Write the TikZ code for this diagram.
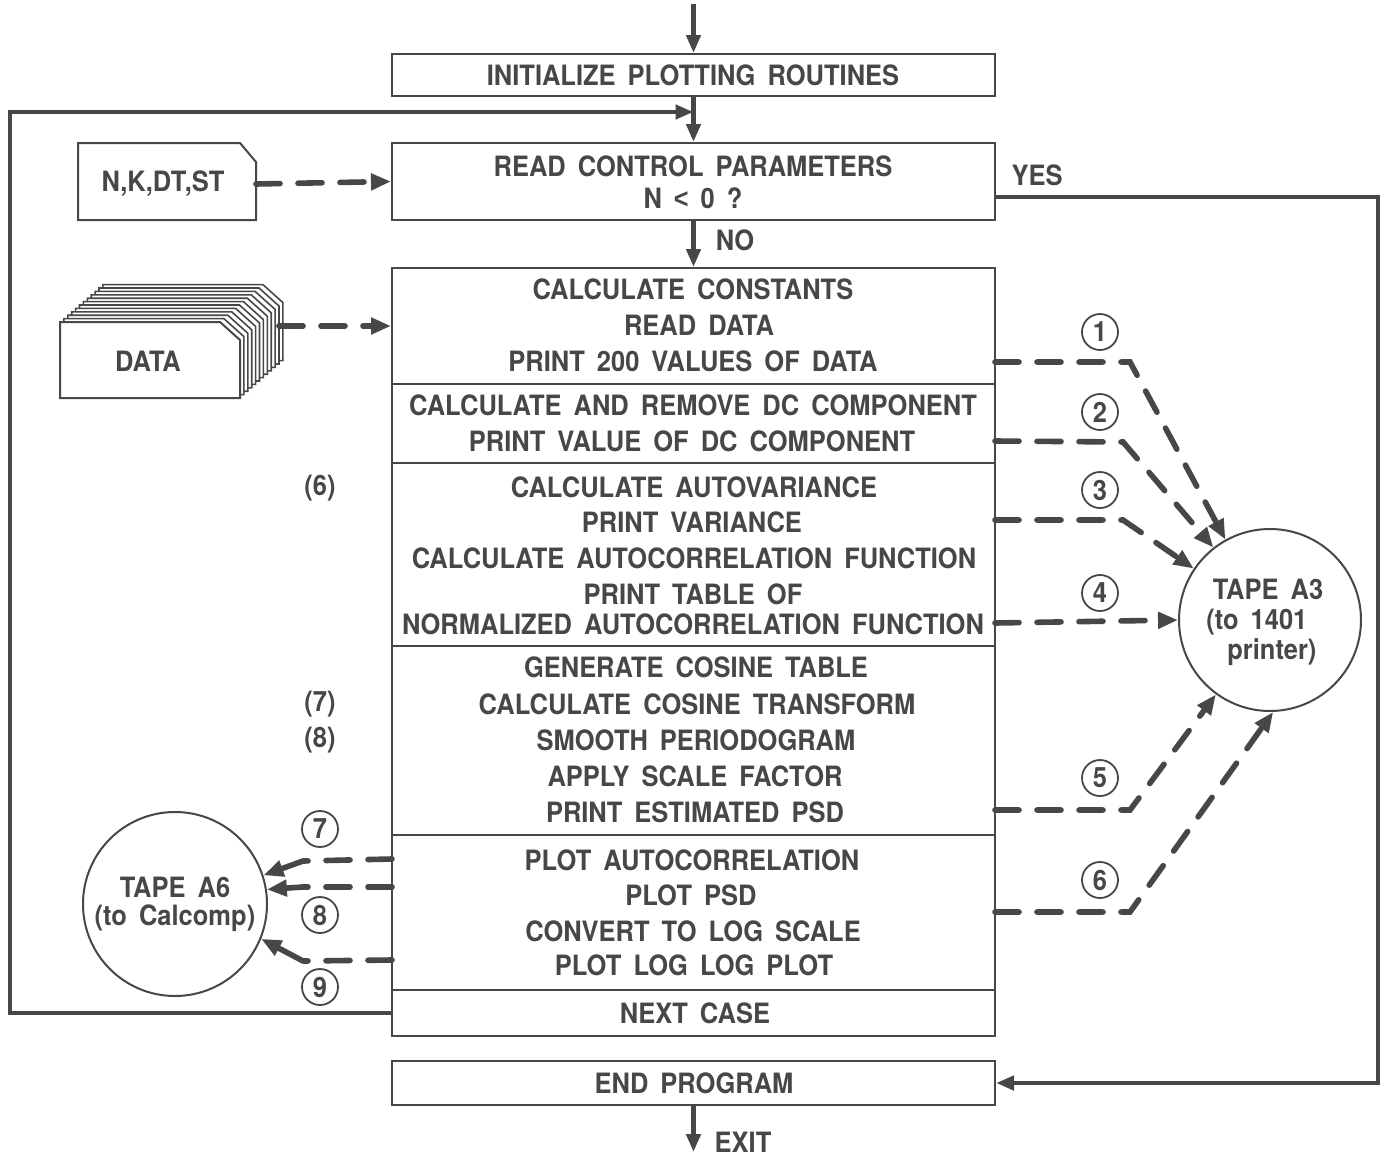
\documentclass[tikz,border=0pt]{standalone}
\usepackage{fontspec}
\setmainfont{TeX Gyre Heros}[WordSpace=1.7, UprightFeatures={FakeStretch=0.92}, BoldFeatures={FakeStretch=0.91}]
\newfontfamily\ltfont{Liberation Sans}[FakeStretch=0.9]
\usetikzlibrary{arrows.meta,calc}
\definecolor{ink}{HTML}{474747}
\definecolor{txt}{HTML}{474747}
\begin{document}
\begin{tikzpicture}[x=0.5pt,y=-0.5pt,
  box/.style={draw=ink, line width=1pt, fill=white, minimum width=301.5pt, inner sep=0pt},
  lbl/.style={text=txt, font=\fontsize{14}{16}\selectfont\bfseries, inner sep=0pt},
  flow/.style={draw=ink, line width=2.3pt, -{Triangle[length=9pt,width=7pt]}},
  dline/.style={draw=ink, line width=2.8pt, dash pattern=on 12pt off 9pt, line cap=round},
  dflow/.style={dline, -{Triangle[length=10pt,width=8pt]}},
  sflow/.style={draw=ink, line width=2.8pt, -{Triangle[length=10pt,width=8pt]}},
  cnum/.style={draw=ink, line width=0.9pt, circle, minimum size=18pt, inner sep=0pt, text=txt, font=\fontsize{14}{16}\selectfont\bfseries},
  tape/.style={draw=ink, line width=1pt, circle, inner sep=0pt, fill=white},
  card/.style={draw=ink, line width=0.8pt, fill=white},
]
\useasboundingbox[fill=white] (0,0) rectangle (1383,1157);

% main boxes
\node[box, minimum height=21pt]   (init) at (693.5,75) {};
\node[box, minimum height=38.5pt] (read) at (693.5,181.5) {};
\node[box, minimum height=58pt]   (b1) at (693.5,326) {};
\node[box, minimum height=39.5pt] (b2) at (693.5,423.5) {};
\node[box, minimum height=91.5pt] (b3) at (693.5,554.5) {};
\node[box, minimum height=94.5pt] (b4) at (693.5,740.5) {};
\node[box, minimum height=77.5pt] (b5) at (693.5,912.5) {};
\node[box, minimum height=23pt]   (b6) at (693.5,1013) {};
\node[box, minimum height=22pt]   (endp) at (693.5,1083) {};

% box texts
\node[lbl] (t0) at (693,75) {INITIALIZE PLOTTING ROUTINES};
\node[lbl] (t1a) at (693,166) {READ CONTROL PARAMETERS};
\node[lbl] (t1b) at (693,198) {N {\ltfont<} 0 ?};
\node[lbl] (t2a) at (693,289) {CALCULATE CONSTANTS};
\node[lbl] (t2b) at (699,325) {READ DATA};
\node[lbl] (t2c) at (693,361) {PRINT 200 VALUES OF DATA};
\node[lbl] (t3a) at (693,405) {CALCULATE AND REMOVE DC COMPONENT};
\node[lbl] (t3b) at (692,441) {PRINT VALUE OF DC COMPONENT};
\node[lbl] (t4a) at (694,487) {CALCULATE AUTOVARIANCE};
\node[lbl] (t4b) at (692,522) {PRINT VARIANCE};
\node[lbl] (t4c) at (694,558) {CALCULATE AUTOCORRELATION FUNCTION};
\node[lbl] (t4d) at (693,594) {PRINT TABLE OF};
\node[lbl] (t4e) at (693,624) {NORMALIZED AUTOCORRELATION FUNCTION};
\node[lbl] (t5a) at (696,667) {GENERATE COSINE TABLE};
\node[lbl] (t5b) at (697,704) {CALCULATE COSINE TRANSFORM};
\node[lbl] (t5c) at (696,740) {SMOOTH PERIODOGRAM};
\node[lbl] (t5d) at (695,776) {APPLY SCALE FACTOR};
\node[lbl] (t5e) at (695,812) {PRINT ESTIMATED PSD};
\node[lbl] (t6a) at (692,860) {PLOT AUTOCORRELATION};
\node[lbl] (t6b) at (691,895) {PLOT PSD};
\node[lbl] (t6c) at (693,931) {CONVERT TO LOG SCALE};
\node[lbl] (t6d) at (694,965) {PLOT LOG LOG PLOT};
\node[lbl] (t7) at (695,1013) {NEXT CASE};
\node[lbl] (t8) at (694,1083) {END PROGRAM};

% left side labels
\node[lbl] (l6) at (320,488) {(6)};
\node[lbl] (l7) at (320,704) {(7)};
\node[lbl] (l8) at (320,740) {(8)};

% main flow
\coordinate (start) at (693.5,4);
\coordinate (join) at (693.5,112);
\coordinate (exitpt) at (693.5,1152);
\draw[flow] (start) -- (init.north);
\draw[draw=ink, line width=2.3pt] (init.south) -- (join);
\draw[flow] (join) -- (read.north);
\draw[flow] (read.south) -- (b1.north);
\draw[flow] (b6.west) -| (10,112) -- (join);
\draw[flow] ($(read.east)+(0,15.5)$) -- (1378,197) |- (endp.east);
\draw[flow] (endp.south) -- (exitpt);
\node[lbl] (no) at (735,240) {NO};
\node[lbl] (yes) at (1037,175) {YES};
\node[lbl] (exit) at (743,1142) {EXIT};

% parameter card
\draw[draw=ink, line width=1pt, fill=white] (78,143) -- (240,143) -- (256,162) -- (256,220) -- (78,220) -- cycle;
\node[lbl] (cardtext) at (163,184) {N,K,DT,ST};
\coordinate (cardE) at (256,184);
\draw[dflow] (cardE) -- (read.west);

% data deck
\foreach \i in {11,10,...,1} {
  \draw[card, shift={(3.9*\i,-3.4*\i)}] (60,322) -- (220,322) -- (240,340) -- (240,398) -- (60,398) -- cycle;
}
\draw[draw=ink, line width=1pt, fill=white] (60,322) -- (220,322) -- (240,340) -- (240,398) -- (60,398) -- cycle;
\node[lbl] (datatext) at (148,361) {DATA};
\coordinate (deckE) at (279,326);
\draw[dflow] (deckE) -- (b1.west);

% tape A3
\node[tape, minimum size=91pt] (A3) at (1270,620) {};
\node[lbl] (a3a) at (1268,589) {TAPE A3};
\node[lbl, anchor=west] (a3b) at (1206,622) {(to 1401};
\node[lbl, anchor=west] (a3c) at (1227,652) {printer)};

% tape A6
\node[tape, minimum size=92pt] (A6) at (175,904) {};
\node[lbl] (a6a) at (175,887) {TAPE A6};
\node[lbl] (a6b) at (175,918) {(to Calcomp)};

% circled numbers
\node[cnum] (c1) at (1100,332) {1};
\node[cnum] (c2) at (1100,412) {2};
\node[cnum] (c3) at (1100,490) {3};
\node[cnum] (c4) at (1100,593) {4};
\node[cnum] (c5) at (1100,778) {5};
\node[cnum] (c6) at (1100,880) {6};
\node[cnum] (c7) at (320,829) {7};
\node[cnum] (c8) at (320,915) {8};
\node[cnum] (c9) at (320,987) {9};

% connectors to tape A3
\coordinate (o1) at (995,362);
\coordinate (o2) at (995,441);
\coordinate (o3) at (995,520);
\coordinate (o4) at (995,623);
\coordinate (o5) at (995,810);
\coordinate (o6) at (995,912);
\draw[dflow] (o1) -- (1130,362) -- (A3.119);
\draw[dflow] (o2) -- (1123,442) -- (A3.128);
\draw[dflow] (o3) -- (1123,520) -- (A3.146);
\draw[dflow] (o4) -- (A3.180);
\draw[dflow] (o5) -- (1130,810) -- (A3.234);
\draw[dflow] (o6) -- (1130,912) -- (A3.272);

% connectors to tape A6
\coordinate (o7) at (392,859);
\coordinate (o8) at (392,887);
\coordinate (o9) at (392,960);
\coordinate (p7) at (303,861);
\coordinate (p8) at (303,887);
\coordinate (p9) at (303,961);
\draw[dline] (o7) -- (p7);
\draw[sflow] (p7) -- (A6.18);
\draw[dline] (o8) -- (p8);
\draw[sflow] (p8) -- (A6.9);
\draw[dline] (o9) -- (p9);
\draw[sflow] (p9) -- (A6.-22);
\end{tikzpicture}
\end{document}
